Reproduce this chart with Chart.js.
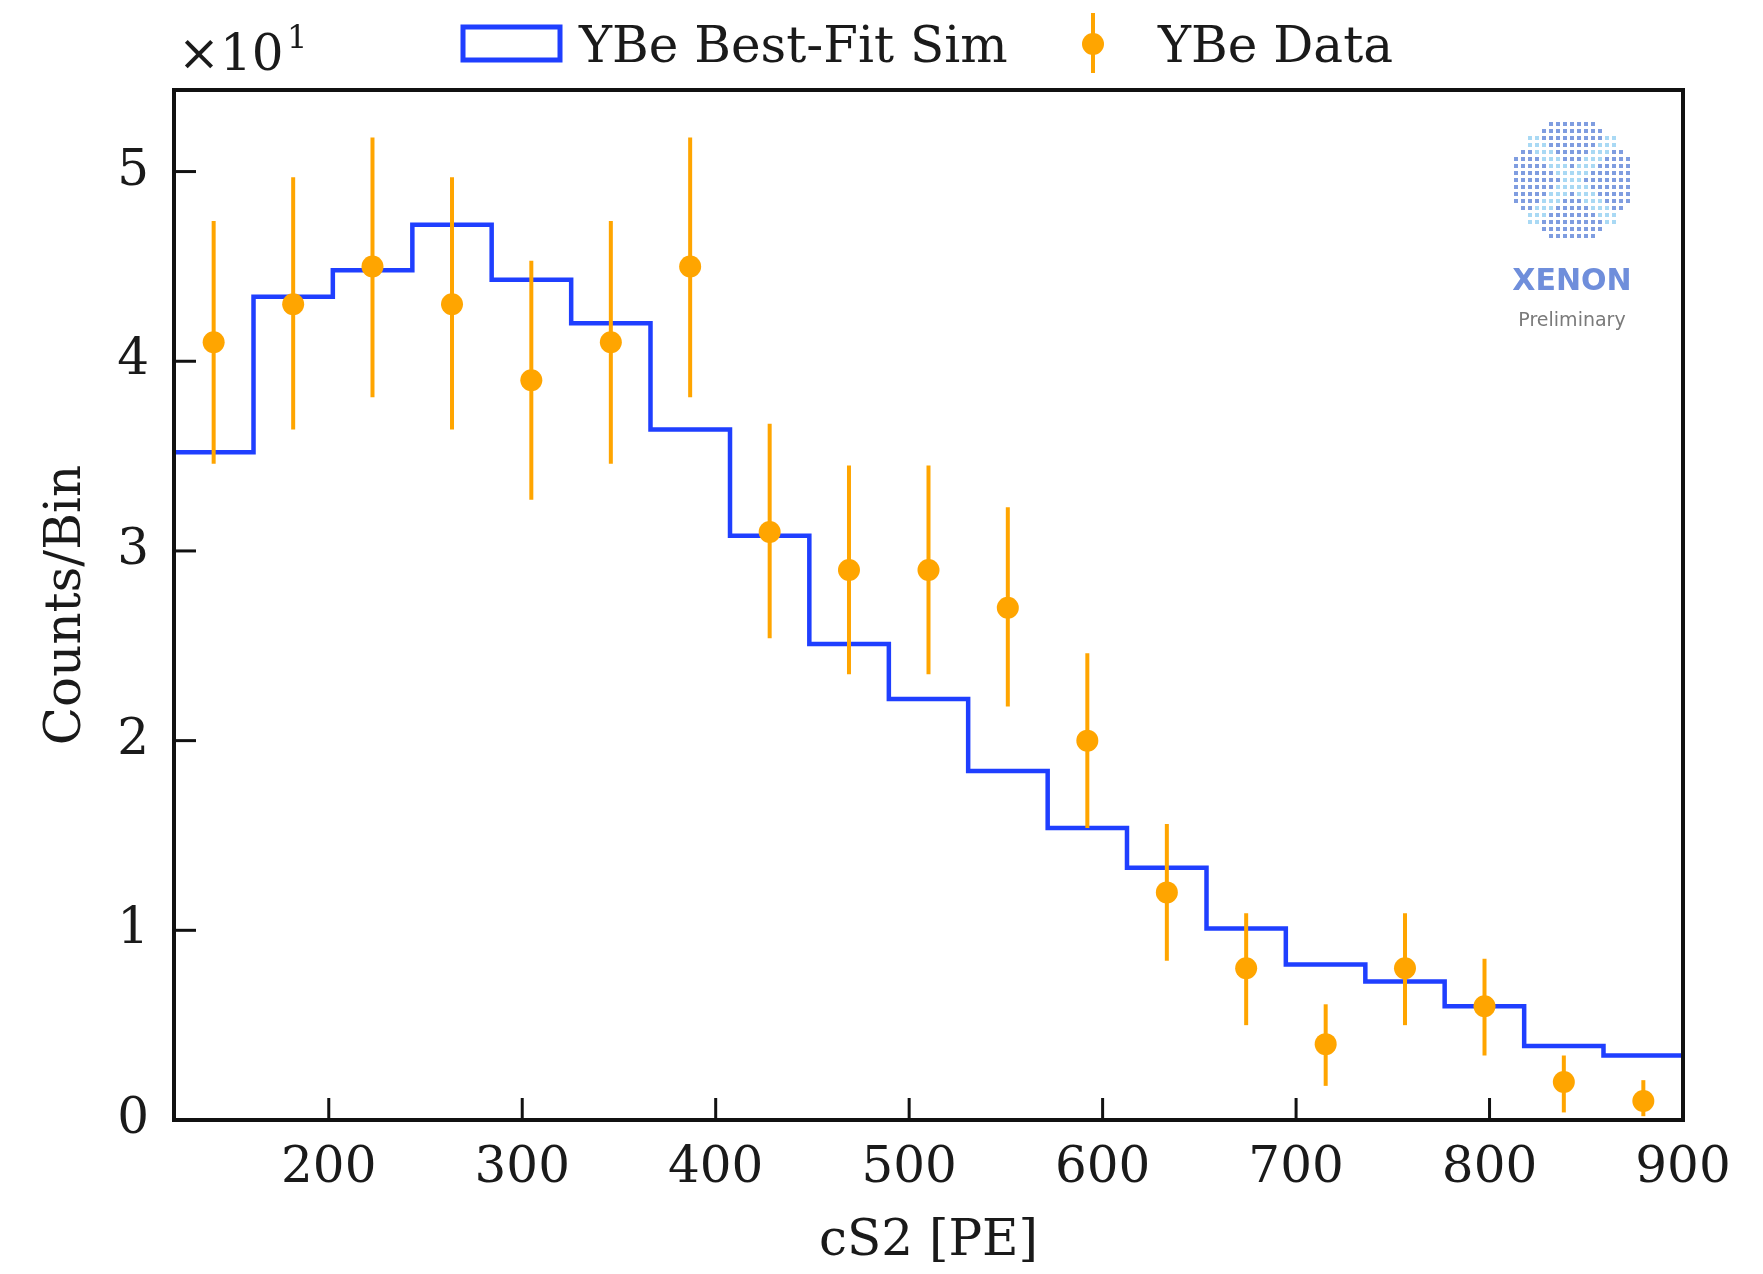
<!DOCTYPE html>
<html>
<head>
<meta charset="utf-8">
<title>YBe cS2 spectrum</title>
<script src="https://cdn.jsdelivr.net/npm/chart.js@4"></script>
<style>
  html, body { margin: 0; padding: 0; background: #fff; }
  #wrap { width: 1763px; height: 1274px; }
</style>
</head>
<body>
<div id="wrap"><canvas id="chart" width="1763" height="1274"></canvas></div>
<script>
// histogram bin edges (cS2 in PE)
const binEdges = [120, 161.1, 202.1, 243.2, 284.2, 325.3, 366.3, 407.4, 448.4, 489.5,
  530.5, 571.6, 612.6, 653.7, 694.7, 735.8, 776.8, 817.9, 858.9, 900];
// best-fit sim, counts per bin
const simCounts = [35.2, 43.4, 44.8, 47.2, 44.3, 42.0, 36.4, 30.8, 25.1, 22.2,
  18.4, 15.4, 13.3, 10.1, 8.2, 7.3, 6.0, 3.9, 3.4];
// data points at bin centres
const binCenters = [140.5, 181.6, 222.6, 263.7, 304.7, 345.8, 386.8, 427.9, 468.9, 510,
  551, 592.1, 633.2, 674.2, 715.3, 756.3, 797.4, 838.4, 879.5];
const dataCounts = [41, 43, 45, 43, 39, 41, 45, 31, 29, 29, 27, 20, 12, 8, 4, 8, 6, 2, 1];
const errLow = [34.6, 36.4, 38.1, 36.4, 32.7, 34.6, 38.1, 25.4, 23.5, 23.5, 21.8, 15.4,
  8.4, 5.0, 1.8, 5.0, 3.4, 0.4, 0.2];
const errHigh = [47.4, 49.7, 51.8, 49.7, 45.3, 47.4, 51.8, 36.7, 34.5, 34.5, 32.3, 24.6,
  15.6, 10.9, 6.1, 10.9, 8.5, 3.4, 2.1];
const xTicks = [200, 300, 400, 500, 600, 700, 800, 900];
const yTicks = [0, 10, 20, 30, 40, 50];

const SERIF = '"DejaVu Serif", serif';
const INK = '#1a1a1a';
const BLUE = '#1f3fff';
const ORANGE = '#ffa500';

const histPoints = binEdges.map((x, i) => ({ x: x, y: simCounts[Math.min(i, simCounts.length - 1)] }));
const dataPoints = binCenters.map((x, i) => ({ x: x, y: dataCounts[i] }));

function line(ctx, x1, y1, x2, y2) {
  ctx.beginPath();
  ctx.moveTo(x1, y1);
  ctx.lineTo(x2, y2);
  ctx.stroke();
}

// vertical error bars under the orange dots
const errorBars = {
  id: 'errorBars',
  beforeDatasetDraw(chart, args) {
    if (args.index !== 0) return;
    const { ctx, scales: { x, y } } = chart;
    ctx.save();
    ctx.strokeStyle = ORANGE;
    ctx.lineWidth = 4;
    binCenters.forEach((c, i) => {
      const px = x.getPixelForValue(c);
      line(ctx, px, y.getPixelForValue(errLow[i]), px, y.getPixelForValue(errHigh[i]));
    });
    ctx.restore();
  }
};

// inward ticks + black box round the plot
const frame = {
  id: 'frame',
  beforeDatasetsDraw(chart) {
    const { ctx, chartArea: a, scales: { x, y } } = chart;
    ctx.save();
    ctx.strokeStyle = '#111';
    ctx.lineWidth = 3;
    x.ticks.forEach(t => {
      const px = x.getPixelForValue(t.value);
      line(ctx, px, a.bottom, px, a.bottom - 22);
    });
    y.ticks.forEach(t => {
      const py = y.getPixelForValue(t.value);
      line(ctx, a.left, py, a.left + 22, py);
    });
    ctx.restore();
  },
  afterDatasetsDraw(chart) {
    const { ctx, chartArea: a } = chart;
    ctx.save();
    ctx.strokeStyle = '#111';
    ctx.lineWidth = 4;
    ctx.strokeRect(a.left, a.top, a.right - a.left, a.bottom - a.top);
    ctx.restore();
  }
};

// legend row, offset text and the logo
const extras = {
  id: 'extras',
  afterDraw(chart) {
    const ctx = chart.ctx;
    ctx.save();
    ctx.textBaseline = 'alphabetic';
    ctx.textAlign = 'left';
    ctx.fillStyle = INK;

    // x10^1
    ctx.font = '50px ' + SERIF;
    ctx.fillText('\u00d710', 178, 70);
    ctx.font = '32px ' + SERIF;
    ctx.fillText('1', 287, 48);

    // legend
    ctx.strokeStyle = BLUE;
    ctx.lineWidth = 5;
    ctx.strokeRect(463, 27, 97, 33);
    ctx.font = '50px ' + SERIF;
    ctx.fillText('YBe Best-Fit Sim', 579, 62);

    ctx.strokeStyle = ORANGE;
    ctx.lineWidth = 4;
    line(ctx, 1093, 13, 1093, 73);
    ctx.fillStyle = ORANGE;
    ctx.beginPath();
    ctx.arc(1093, 44, 11, 0, Math.PI * 2);
    ctx.fill();
    ctx.fillStyle = INK;
    ctx.fillText('YBe Data', 1158, 62);

    // XENON logo (dot disc)
    const cx = 1572, cy = 180, r = 60, step = 7;
    for (let dy = -63; dy <= 63; dy += step) {
      for (let dx = -63; dx <= 63; dx += step) {
        if (dx * dx + dy * dy > r * r) continue;
        const nearX = Math.abs(dx - dy) < 14 || Math.abs(dx + dy) < 14;
        ctx.fillStyle = nearX ? '#a9d9f4' : '#7f9de0';
        ctx.fillRect(cx + dx - 2, cy + dy - 2, 4, 4);
      }
    }
    ctx.textAlign = 'center';
    ctx.fillStyle = '#6f8edb';
    ctx.font = 'bold 30px "DejaVu Sans", sans-serif';
    ctx.fillText('XENON', cx, 290);
    ctx.fillStyle = '#7a7a7a';
    ctx.font = '19px "DejaVu Sans", sans-serif';
    ctx.fillText('Preliminary', cx, 326);
    ctx.restore();
  }
};

const font = { family: SERIF, size: 50 };

new Chart(document.getElementById('chart'), {
  type: 'scatter',
  data: {
    datasets: [
      {
        label: 'YBe Data',
        data: dataPoints,
        pointRadius: 11,
        pointHoverRadius: 11,
        backgroundColor: ORANGE,
        borderWidth: 0,
      },
      {
        type: 'line',
        label: 'YBe Best-Fit Sim',
        data: histPoints,
        stepped: true,
        borderColor: BLUE,
        borderWidth: 4.5,
        pointRadius: 0,
        fill: false,
      },
    ],
  },
  options: {
    responsive: false,
    animation: false,
    layout: { padding: { left: 0, right: 80, top: 90, bottom: 0 } },
    plugins: { legend: { display: false }, tooltip: { enabled: false } },
    scales: {
      x: {
        type: 'linear',
        min: 120,
        max: 900,
        afterBuildTicks: s => { s.ticks = xTicks.map(v => ({ value: v })); },
        afterFit: s => { s.height = 154; },
        grid: { display: false },
        border: { display: false },
        ticks: { font, color: INK, padding: 11, maxRotation: 0, autoSkip: false, callback: v => v },
        title: { display: true, text: 'cS2 [PE]', font, color: INK, padding: { top: 0, bottom: 2 } },
      },
      y: {
        type: 'linear',
        min: 0,
        max: 54.3,
        afterBuildTicks: s => { s.ticks = yTicks.map(v => ({ value: v })); },
        afterFit: s => { s.width = 174; },
        grid: { display: false },
        border: { display: false },
        ticks: { font, color: INK, padding: 17, autoSkip: false, callback: v => v / 10 },
        title: { display: true, text: 'Counts/Bin', font, color: INK, padding: { top: 37, bottom: 0 } },
      },
    },
  },
  plugins: [errorBars, frame, extras],
});
</script>
</body>
</html>
